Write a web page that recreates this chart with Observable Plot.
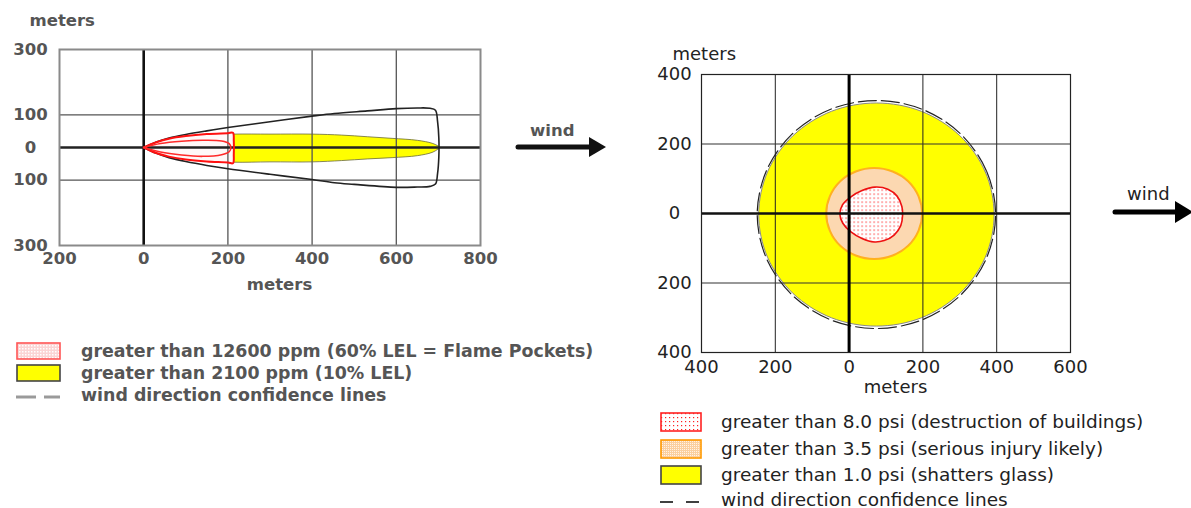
<!DOCTYPE html>
<html><head><meta charset="utf-8">
<script src="https://cdn.jsdelivr.net/npm/d3@7"></script>
<script src="https://cdn.jsdelivr.net/npm/@observablehq/plot@0.6"></script>
<style>
html,body{margin:0;padding:0;background:#fff;}
body{width:1191px;height:508px;position:relative;overflow:hidden;}
.abs{position:absolute;white-space:nowrap;}
.lt{font-family:"DejaVu Sans",Verdana,sans-serif;font-weight:bold;font-size:16.5px;color:#555;line-height:20px;}
.rt{font-family:"DejaVu Sans",Verdana,sans-serif;font-size:18px;color:#222;line-height:22px;}
.ltl{font-size:17.4px;}
.rtl{font-size:18.5px;}
</style></head><body>
<svg width="0" height="0" style="position:absolute">
 <defs>
  <pattern id="redDots" width="4" height="4" patternUnits="userSpaceOnUse">
   <rect width="4" height="4" fill="#fff"/><rect x="1" y="1" width="1.2" height="1.2" fill="#f22"/>
  </pattern>
  <pattern id="orangeDots" width="2" height="2" patternUnits="userSpaceOnUse">
   <rect width="2" height="2" fill="#fbcf9f"/><rect width="1" height="1" fill="#fff3e6"/>
  </pattern>
  <pattern id="pinkDots" width="3" height="3" patternUnits="userSpaceOnUse">
   <rect width="3" height="3" fill="#fbd4d4"/><rect width="1.5" height="1.5" fill="#fff"/>
  </pattern>
 </defs>
</svg>
<div id="left" class="abs" style="left:0;top:0;width:500px"></div>
<div id="right" class="abs" style="left:640px;top:0;width:460px"></div>
<div id="legendLeft"></div>
<div id="legendRight"></div>
<div id="winds"></div>
<script>
// ---------- LEFT PANEL: toxic / flammable plume (meters) ----------
const leftXTicks = [-200, 0, 200, 400, 600, 800];
const leftYTicks = [-300, -100, 0, 100, 300];
const leftGridX = [200, 400, 600];
const leftGridY = [100, -100];
const leftOrigin = [0];
// wind direction confidence outline
const confidenceLeft = [[0,0],[30,17],[60,29],[100,40],[150,51],[200,61],[300,79],[400,96],[453,104],[531,112],[600,119],[650,121],[680,120],[693,114],[698,80],[701,30],[701,-30],[698,-80],[693,-112],[680,-119],[650,-121],[600,-122],[500,-113],[453,-108],[400,-98],[300,-82],[200,-65],[150,-55],[100,-43],[60,-31],[30,-18],[0,0]];
// > 2100 ppm (10% LEL)
const plume2100 = [[0,0],[50,24],[100,33],[150,38],[213,41],[300,41],[400,41],[470,38],[531,33],[590,28],[650,22],[685,13],[700,4],[703,0],[700,-4],[685,-15],[650,-25],[590,-31],[531,-35],[470,-40],[400,-44],[300,-44],[213,-45],[150,-40],[100,-34],[50,-24],[0,0]];
// > 12600 ppm (60% LEL = Flame Pockets)
const plume12600 = [[0,0],[30,16],[60,27],[100,35],[150,41],[200,44],[212,45],[214,20],[214,-20],[212,-48],[200,-46],[150,-43],[100,-37],[60,-28],[30,-17],[0,0]];
const plume12600Inner = [[0,0],[40,12],[90,19],[140,22],[185,20],[203,12],[207,0],[203,-13],[185,-22],[140,-27],[90,-23],[40,-14],[0,0]];

// ---------- RIGHT PANEL: blast overpressure (meters) ----------
const rightXTicks = [-400, -200, 0, 200, 400, 600];
const rightYTicks = [-400, -200, 0, 200, 400];
const rightGridX = [-200, 200, 400];
const rightGridY = [200, -200];
const rightOrigin = [0];
// > 1.0 psi (shatters glass)
const blast1psi = [[393,-3],[369,120],[300,224],[196,294],[74,318],[-48,294],[-152,224],[-221,120],[-245,-3],[-221,-126],[-152,-230],[-48,-300],[74,-324],[196,-300],[300,-230],[369,-126]];
// wind direction confidence lines
const confidenceRight = [[397,-3],[372,123],[302,229],[198,300],[74,325],[-50,300],[-154,229],[-224,123],[-249,-3],[-224,-129],[-154,-235],[-50,-306],[74,-331],[198,-306],[302,-235],[372,-129]];
// > 3.5 psi (serious injury likely)
const blast35psi = [[198,0],[188,50],[160,93],[118,121],[68,131],[18,121],[-24,93],[-52,50],[-62,0],[-52,-50],[-24,-93],[18,-121],[68,-131],[118,-121],[160,-93],[188,-50]];
// > 8.0 psi (destruction of buildings)
const blast8psi = [[-25,-2],[-18,25],[5,48],[35,66],[70,76],[105,70],[130,50],[143,20],[145,-5],[140,-35],[122,-62],[95,-78],[68,-82],[35,-72],[5,-53],[-17,-28]];

const leftLegend = [
  {label: "greater than 12600 ppm (60% LEL = Flame Pockets)", kind: "pink"},
  {label: "greater than 2100 ppm (10% LEL)", kind: "yellow"},
  {label: "wind direction confidence lines", kind: "dash"}
];
const rightLegend = [
  {label: "greater than 8.0 psi (destruction of buildings)", kind: "red"},
  {label: "greater than 3.5 psi (serious injury likely)", kind: "orange"},
  {label: "greater than 1.0 psi (shatters glass)", kind: "yellow"},
  {label: "wind direction confidence lines", kind: "dash"}
];
const axisTitle = "meters";
const windLabel = "wind";

const left = Plot.plot({
  width: 500, height: 305,
  marginLeft: 59, marginRight: 20, marginTop: 49, marginBottom: 60,
  x: {domain: [-200, 800]},
  y: {domain: [-300, 300]},
  style: {fontFamily: "'DejaVu Sans', Verdana, sans-serif", fontSize: "16.5px", fontWeight: "bold", color: "#555", background: "transparent"},
  marks: [
    Plot.line(plume2100, {curve: "catmull-rom", fill: "#ffff00", stroke: "#6a6a40", strokeWidth: 0.8}),
    Plot.line(plume12600, {curve: "catmull-rom", fill: "#fff8f8", stroke: "none"}),
    Plot.ruleX(leftGridX, {stroke: "#555", strokeWidth: 1.3}),
    Plot.ruleY(leftGridY, {stroke: "#555", strokeWidth: 1.3}),
    Plot.ruleX(leftOrigin, {stroke: "#111", strokeWidth: 2.6}),
    Plot.ruleY(leftOrigin, {stroke: "#222", strokeWidth: 2.6}),
    Plot.line(confidenceLeft, {curve: "catmull-rom", stroke: "#222", strokeWidth: 1.6}),
    Plot.line(plume12600, {curve: "catmull-rom", stroke: "#ff1010", strokeWidth: 2}),
    Plot.line(plume12600Inner, {curve: "catmull-rom", stroke: "#ff2a2a", strokeWidth: 1.6}),
    Plot.frame({stroke: "#8a8a8a", strokeWidth: 2}),
    Plot.axisX({ticks: leftXTicks, tickFormat: d => Math.abs(d), tickSize: 0, tickPadding: 7, label: null}),
    Plot.axisY({ticks: leftYTicks, tickFormat: d => Math.abs(d), tickSize: 0, tickPadding: 29, textAnchor: "middle", label: null}),
    Plot.text([axisTitle], {text: d => d, frameAnchor: "top-left", lineAnchor: "middle", textAnchor: "start", dx: -30, dy: -28.3}),
    Plot.text([axisTitle], {text: d => d, frameAnchor: "bottom", lineAnchor: "middle", dx: 9.5, dy: 39.7})
  ]
});
document.getElementById("left").append(left);

const right = Plot.plot({
  width: 460, height: 400,
  marginLeft: 61, marginRight: 30, marginTop: 74, marginBottom: 48,
  x: {domain: [-400, 600]},
  y: {domain: [-400, 400]},
  style: {fontFamily: "'DejaVu Sans', Verdana, sans-serif", fontSize: "18px", color: "#222", background: "transparent"},
  marks: [
    Plot.line(blast1psi, {curve: "catmull-rom-closed", fill: "#ffff00", stroke: "#8a8a8a", strokeWidth: 1}),
    Plot.line(confidenceRight, {curve: "catmull-rom-closed", stroke: "#222", strokeWidth: 1.2, strokeDasharray: "18,5"}),
    Plot.line(blast35psi, {curve: "catmull-rom-closed", fill: "url(#orangeDots)", stroke: "#ffb020", strokeWidth: 2}),
    Plot.line(blast8psi, {curve: "catmull-rom-closed", fill: "url(#redDots)", stroke: "#ee1111", strokeWidth: 1.6}),
    Plot.ruleX(rightGridX, {stroke: "#222", strokeWidth: 1}),
    Plot.ruleY(rightGridY, {stroke: "#333", strokeWidth: 1.2}),
    Plot.ruleX(rightOrigin, {stroke: "#000", strokeWidth: 3}),
    Plot.ruleY(rightOrigin, {stroke: "#111", strokeWidth: 2.4}),
    Plot.frame({stroke: "#222", strokeWidth: 1.2}),
    Plot.axisX({ticks: rightXTicks, tickFormat: d => Math.abs(d), tickSize: 0, tickPadding: 8, label: null}),
    Plot.axisY({ticks: rightYTicks, tickFormat: d => Math.abs(d), tickSize: 0, tickPadding: 27, textAnchor: "middle", label: null}),
    Plot.text([axisTitle], {text: d => d, frameAnchor: "top-left", lineAnchor: "middle", textAnchor: "start", dx: -29, dy: -19.8}),
    Plot.text([axisTitle], {text: d => d, frameAnchor: "bottom", lineAnchor: "middle", dx: 9.5, dy: 35.2})
  ]
});
document.getElementById("right").append(right);

// ---------- legends ----------
function swatch(kind, w, h) {
  const fills = {pink: ["url(#pinkDots)", "#f55"], yellow: ["#ffff00", "#444"], red: ["url(#redDots)", "#f22"], orange: ["url(#orangeDots)", "#f90"]};
  const [f, s] = fills[kind];
  return `<svg width="${w}" height="${h}"><rect x="1" y="1" width="${w-2}" height="${h-2}" fill="${f}" stroke="${s}" stroke-width="1.6"/></svg>`;
}
const ll = document.getElementById("legendLeft");
leftLegend.forEach((d, i) => {
  const cy = [351, 373, 395][i];
  const sw = d.kind === "dash"
    ? `<svg width="46" height="6"><line x1="0" y1="3" x2="20" y2="3" stroke="#9a9a9a" stroke-width="3"/><line x1="28" y1="3" x2="44" y2="3" stroke="#9a9a9a" stroke-width="3"/></svg>`
    : swatch(d.kind, 45, 18);
  const sh = d.kind === "dash" ? 6 : 18;
  ll.insertAdjacentHTML("beforeend", `<div class="abs" style="left:16px;top:${cy - sh/2 + (d.kind==='dash'?2:0)}px;line-height:0">${sw}</div><div class="abs lt ltl" style="left:81px;top:${cy-10}px">${d.label}</div>`);
});
const lr = document.getElementById("legendRight");
rightLegend.forEach((d, i) => {
  const cy = [422, 448.5, 475, 500][i];
  const sw = d.kind === "dash"
    ? `<svg width="42" height="4"><line x1="0" y1="2" x2="13" y2="2" stroke="#111" stroke-width="1.6"/><line x1="26" y1="2" x2="39" y2="2" stroke="#111" stroke-width="1.6"/></svg>`
    : swatch(d.kind, 42, 20);
  const sh = d.kind === "dash" ? 4 : 20;
  lr.insertAdjacentHTML("beforeend", `<div class="abs" style="left:660px;top:${cy - sh/2 + (d.kind==='dash'?1:0)}px;line-height:0">${sw}</div><div class="abs rt rtl" style="left:721px;top:${cy-11}px">${d.label}</div>`);
});

// ---------- wind arrows (annotations) ----------
const w = document.getElementById("winds");
w.insertAdjacentHTML("beforeend", `<div class="abs lt" style="left:530px;top:121px">${windLabel}</div>
<svg class="abs" style="left:515px;top:135px" width="95" height="25"><line x1="3" y1="12" x2="78" y2="12" stroke="#111" stroke-width="5" stroke-linecap="round"/><path d="M74,2 L91,12 L74,22 Z" fill="#111"/></svg>
<div class="abs rt" style="left:1127px;top:183px">${windLabel}</div>
<svg class="abs" style="left:1111px;top:200px" width="80" height="25"><line x1="4" y1="12" x2="66" y2="12" stroke="#000" stroke-width="5" stroke-linecap="round"/><path d="M64,1 L82,12 L64,23 Z" fill="#000"/></svg>`);
</script>
</body></html>
